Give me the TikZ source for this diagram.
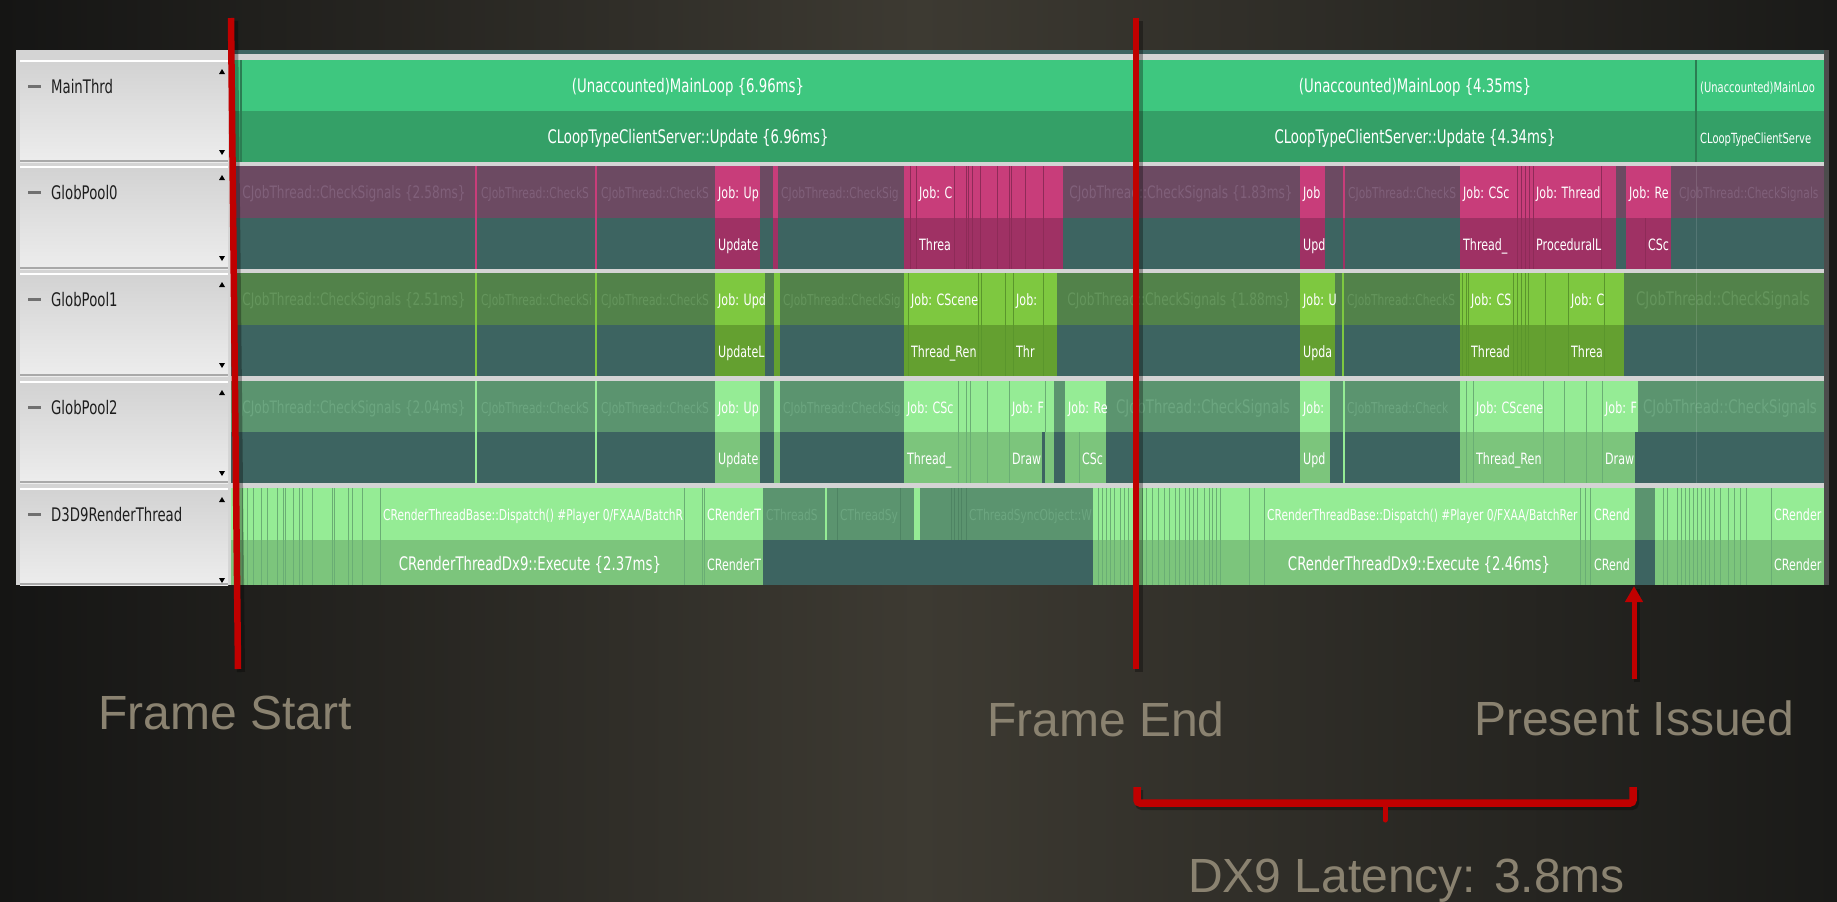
\documentclass[tikz,border=0pt]{standalone}
\usepackage{fontspec}
\usetikzlibrary{arrows.meta}
\newfontfamily\pf[FakeStretch=0.71]{DejaVu Sans}
\newfontfamily\af{Liberation Sans}
\definecolor{bgE}{HTML}{151514}
\definecolor{bgM}{HTML}{3D3A32}
\definecolor{bgR}{HTML}{1A1A18}
\definecolor{panel}{HTML}{D4D4D4}
\definecolor{labA}{HTML}{D2D2D2}
\definecolor{labB}{HTML}{EDEDED}
\definecolor{labE}{HTML}{A9A9A9}
\definecolor{labT}{HTML}{1E1E1E}
\definecolor{dashc}{HTML}{707070}
\definecolor{mainT}{HTML}{3EC77F}
\definecolor{mainB}{HTML}{34A067}
\definecolor{mainL}{HTML}{2B7D52}
\definecolor{tealc}{HTML}{3D6461}
\definecolor{p0i}{HTML}{6C4A62}
\definecolor{p0a}{HTML}{C83D7A}
\definecolor{p0b}{HTML}{9F3164}
\definecolor{p0l}{HTML}{8E2B58}
\definecolor{p0t}{HTML}{80607A}
\definecolor{g1i}{HTML}{52824A}
\definecolor{g1a}{HTML}{7EC840}
\definecolor{g1b}{HTML}{64A030}
\definecolor{g1l}{HTML}{5A962C}
\definecolor{g1t}{HTML}{64955C}
\definecolor{g2i}{HTML}{5B946F}
\definecolor{g2a}{HTML}{95EC95}
\definecolor{g2b}{HTML}{7CC57C}
\definecolor{g2l}{HTML}{6AAE74}
\definecolor{g2t}{HTML}{6CA680}
\definecolor{g2d}{HTML}{4E8463}
\definecolor{redc}{HTML}{C00000}
\definecolor{annc}{HTML}{8A8270}
\tikzset{
  big/.style={font=\pf\fontsize{18.7}{21}\selectfont},
  mid/.style={font=\pf\fontsize{17.1}{19}\selectfont},
  sml/.style={font=\pf\fontsize{15.6}{18}\selectfont},
  smt/.style={font=\pf\fontsize{15}{17}\selectfont},
  tiny/.style={font=\pf\fontsize{14}{16}\selectfont},
  ann/.style={font=\af\fontsize{48}{56}\selectfont,text=annc,inner sep=0pt,anchor=base west},
  redline/.style={draw=redc,line width=6.5pt},
  shadowline/.style={draw=black,opacity=0.3,line width=8pt},
}
% clipped, left aligned text: x1, x2, baseline, style, colour, text
\newcommand\ClT[6]{\begin{scope}\clip (#1,#3-30) rectangle (#2,#3+14);\node[#4,text=#5,anchor=base west,inner sep=0pt] at (#1+3,#3) {#6};\end{scope}}
% centred text: x, baseline, style, colour, text
\newcommand\CeT[5]{\node[#3,text=#4,anchor=base,inner sep=0pt] at (#1,#2) {#5};}
% label cell: top, bottom, name, node name
\newcommand\LabCell[4]{%
  \shade[top color=labA,bottom color=labB] (20,#1) rectangle (228,#2);
  \fill[labE] (20,#2-2) rectangle (228,#2);
  \fill[white] (20,#1) rectangle (228,#1+1.5);
  \fill[dashc] (28,#1+24.5) rectangle (41,#1+28);
  \node[big,text=labT,anchor=base west,inner sep=0pt] (#4) at (51,#1+33) {#3};
  \fill[black] (219,#1+14) -- (225,#1+14) -- (222,#1+9) -- cycle;
  \fill[black] (219,#1+90) -- (225,#1+90) -- (222,#1+95) -- cycle;}
\begin{document}
\begin{tikzpicture}[x=1pt,y=-1pt]
\useasboundingbox (0,0) rectangle (1837,902);
\shade[left color=bgE,right color=bgR,middle color=bgM] (0,0) rectangle (1837,902);
% panel
\fill[panel] (16,50) rectangle (1829,585);
\fill[tealc] (231,50) rectangle (1824,54);
\fill[black!70] (1824,50) rectangle (1829,585);
% label cells
\LabCell{60}{162}{MainThrd}{labA}
\LabCell{166}{269}{GlobPool0}{labB}
\LabCell{273}{376}{GlobPool1}{labC}
\LabCell{381}{483}{GlobPool2}{labD}
\LabCell{488}{585}{D3D9RenderThread}{labE}

% ---------------- MainThrd
\fill[mainT] (231,60) rectangle (1824,111);
\fill[mainB] (231,111) rectangle (1824,162);
\foreach \x in {241,1134,1696} \draw[mainL,line width=1.2pt] (\x,60) -- (\x,162);
\CeT{688}{92}{big}{white}{(Unaccounted)MainLoop \{6.96ms\}}
\CeT{688}{143}{big}{white}{CLoopTypeClientServer::Update \{6.96ms\}}
\CeT{1415}{92}{big}{white}{(Unaccounted)MainLoop \{4.35ms\}}
\CeT{1415}{143}{big}{white}{CLoopTypeClientServer::Update \{4.34ms\}}
\ClT{1697}{1824}{92}{tiny}{white}{(Unaccounted)MainLoo}
\ClT{1697}{1824}{143}{tiny}{white}{CLoopTypeClientServe}

% ---------------- GlobPool0
\fill[p0i] (231,166) rectangle (1824,218);
\fill[tealc] (231,218) rectangle (1824,269);
\foreach \a/\b in {715/760,773/778,904/1063,1300/1325,1343/1345,1460/1616,1626/1671}
  {\fill[p0a] (\a,166) rectangle (\b,218); \fill[p0b] (\a,218) rectangle (\b,269);}
\foreach \x in {476,596} \draw[p0a,line width=1.5pt] (\x,166) -- (\x,269);
\foreach \x in {910,916,954,966,968,972,980,997,1009,1011,1025,1043,1517,1521,1525,1529,1533,1601}
  \draw[p0l,line width=1pt] (\x,166) -- (\x,269);
\draw[p0l,line width=1pt] (1645,218) -- (1645,269);
\CeT{354}{198}{mid}{p0t}{CJobThread::CheckSignals \{2.58ms\}}
\ClT{478}{596}{198}{smt}{p0t}{CJobThread::CheckS}
\ClT{598}{715}{198}{smt}{p0t}{CJobThread::CheckS}
\ClT{778}{904}{198}{smt}{p0t}{CJobThread::CheckSig}
\CeT{1181}{198}{mid}{p0t}{CJobThread::CheckSignals \{1.83ms\}}
\ClT{1345}{1460}{198}{smt}{p0t}{CJobThread::CheckS}
\ClT{1676}{1824}{198}{smt}{p0t}{CJobThread::CheckSignals}
\ClT{715}{760}{198}{sml}{white}{Job: Up}
\ClT{916}{954}{198}{sml}{white}{Job: C}
\ClT{1300}{1325}{198}{sml}{white}{Job}
\ClT{1460}{1517}{198}{sml}{white}{Job: CSc}
\ClT{1533}{1601}{198}{sml}{white}{Job: Thread}
\ClT{1626}{1671}{198}{sml}{white}{Job: Re}
\ClT{715}{760}{250}{sml}{white}{Update}
\ClT{916}{954}{250}{sml}{white}{Threa}
\ClT{1300}{1325}{250}{sml}{white}{Upd}
\ClT{1460}{1517}{250}{sml}{white}{Thread\_}
\ClT{1533}{1601}{250}{sml}{white}{ProceduralL}
\ClT{1645}{1671}{250}{sml}{white}{CSc}

% ---------------- GlobPool1
\fill[g1i] (231,273) rectangle (1824,325);
\fill[tealc] (231,325) rectangle (1824,376);
\foreach \a/\b in {715/765,774/780,904/1057,1300/1335,1460/1624}
  {\fill[g1a] (\a,273) rectangle (\b,325); \fill[g1b] (\a,325) rectangle (\b,376);}
\foreach \x in {476,596,1343} \draw[g1a,line width=1.5pt] (\x,273) -- (\x,376);
\foreach \x in {908,978,981,1005,1013,1043,1462,1466,1468,1513,1517,1521,1525,1528,1545,1568,1604}
  \draw[g1l,line width=1pt] (\x,273) -- (\x,376);
\CeT{354}{305}{mid}{g1t}{CJobThread::CheckSignals \{2.51ms\}}
\ClT{478}{596}{305}{smt}{g1t}{CJobThread::CheckSi}
\ClT{598}{715}{305}{smt}{g1t}{CJobThread::CheckS}
\ClT{780}{904}{305}{smt}{g1t}{CJobThread::CheckSig}
\CeT{1179}{305}{mid}{g1t}{CJobThread::CheckSignals \{1.88ms\}}
\ClT{1344}{1460}{305}{smt}{g1t}{CJobThread::CheckS}
\CeT{1723}{305}{big}{g1t}{CJobThread::CheckSignals}
\ClT{715}{765}{305}{sml}{white}{Job: Upd}
\ClT{908}{978}{305}{sml}{white}{Job: CScene}
\ClT{1013}{1043}{305}{sml}{white}{Job:}
\ClT{1300}{1335}{305}{sml}{white}{Job: U}
\ClT{1468}{1513}{305}{sml}{white}{Job: CS}
\ClT{1568}{1604}{305}{sml}{white}{Job: C}
\ClT{715}{765}{357}{sml}{white}{UpdateL}
\ClT{908}{978}{357}{sml}{white}{Thread\_Ren}
\ClT{1013}{1043}{357}{sml}{white}{Thr}
\ClT{1300}{1335}{357}{sml}{white}{Upda}
\ClT{1468}{1513}{357}{sml}{white}{Thread}
\ClT{1568}{1604}{357}{sml}{white}{Threa}

% ---------------- GlobPool2
\fill[g2i] (231,381) rectangle (1824,432);
\fill[tealc] (231,432) rectangle (1824,483);
\foreach \a/\b in {715/760,774/780,904/1054,1065/1106,1300/1330,1460/1638}
  \fill[g2a] (\a,381) rectangle (\b,432);
\foreach \a/\b in {715/760,774/780,904/1042,1045/1054,1065/1106,1300/1330,1460/1635}
  \fill[g2b] (\a,432) rectangle (\b,483);
\foreach \x in {476,596,1344} \draw[g2a,line width=1.5pt] (\x,381) -- (\x,483);
\foreach \x in {958,966,970,987,1009,1466,1473,1543,1564,1586,1602}
  \draw[g2l,line width=1pt] (\x,381) -- (\x,483);
\draw[g2l,line width=1pt] (1045,381) -- (1045,432);
\draw[g2l,line width=1pt] (1079,432) -- (1079,483);
\CeT{354}{413}{mid}{g2t}{CJobThread::CheckSignals \{2.04ms\}}
\ClT{478}{596}{413}{smt}{g2t}{CJobThread::CheckS}
\ClT{598}{715}{413}{smt}{g2t}{CJobThread::CheckS}
\ClT{780}{904}{413}{smt}{g2t}{CJobThread::CheckSig}
\CeT{1203}{413}{big}{g2t}{CJobThread::CheckSignals}
\ClT{1344}{1460}{413}{smt}{g2t}{CJobThread::Check}
\CeT{1730}{413}{big}{g2t}{CJobThread::CheckSignals}
\ClT{715}{760}{413}{sml}{white}{Job: Up}
\ClT{904}{958}{413}{sml}{white}{Job: CSc}
\ClT{1009}{1045}{413}{sml}{white}{Job: F}
\ClT{1065}{1106}{413}{sml}{white}{Job: Re}
\ClT{1300}{1330}{413}{sml}{white}{Job:}
\ClT{1473}{1543}{413}{sml}{white}{Job: CScene}
\ClT{1602}{1638}{413}{sml}{white}{Job: F}
\ClT{715}{760}{464}{sml}{white}{Update}
\ClT{904}{958}{464}{sml}{white}{Thread\_}
\ClT{1009}{1042}{464}{sml}{white}{Draw}
\ClT{1079}{1106}{464}{sml}{white}{CSc}
\ClT{1300}{1330}{464}{sml}{white}{Upd}
\ClT{1473}{1543}{464}{sml}{white}{Thread\_Ren}
\ClT{1602}{1635}{464}{sml}{white}{Draw}

% ---------------- D3D9RenderThread
\fill[g2i] (231,488) rectangle (1824,540);
\fill[tealc] (231,540) rectangle (1824,585);
\foreach \a/\b in {231/763,825/827,914/920,1093/1635,1655/1824}
  \fill[g2a] (\a,488) rectangle (\b,540);
\foreach \a/\b in {231/763,1093/1635,1655/1824}
  \fill[g2b] (\a,540) rectangle (\b,585);
\foreach \x in {242,247,253,261,267,277,283,285,293,299,302,312,332,334,348,352,362,380,684,702,704,
  1098,1102,1106,1110,1114,1120,1124,1128,1142,1146,1152,1158,1164,1169,1175,1179,1185,1189,1193,1197,
  1204,1209,1212,1216,1220,1249,1264,1580,1585,1590,
  1663,1667,1677,1681,1685,1689,1693,1697,1701,1705,1709,1714,1720,1728,1734,1740,1746,1771}
  \draw[g2l,line width=1pt] (\x,488) -- (\x,585);
\foreach \x in {837,900,951,954,958,961,966}
  \draw[g2d,line width=1pt] (\x,488) -- (\x,540);
\ClT{380}{684}{520}{smt}{white}{CRenderThreadBase::Dispatch() \#Player 0/FXAA/BatchR}
\ClT{704}{763}{520}{sml}{white}{CRenderT}
\ClT{763}{825}{520}{smt}{g2t}{CThreadS}
\ClT{837}{900}{520}{smt}{g2t}{CThreadSy}
\ClT{966}{1093}{520}{smt}{g2t}{CThreadSyncObject::W}
\ClT{1264}{1580}{520}{smt}{white}{CRenderThreadBase::Dispatch() \#Player 0/FXAA/BatchRer}
\ClT{1591}{1633}{520}{sml}{white}{CRend}
\ClT{1771}{1824}{520}{sml}{white}{CRender}
\CeT{530}{570}{big}{white}{CRenderThreadDx9::Execute \{2.37ms\}}
\ClT{704}{763}{570}{sml}{white}{CRenderT}
\CeT{1419}{570}{big}{white}{CRenderThreadDx9::Execute \{2.46ms\}}
\ClT{1591}{1633}{570}{sml}{white}{CRend}
\ClT{1771}{1824}{570}{sml}{white}{CRender}
\draw[white,opacity=0.12,line width=1pt] (1696,166) -- (1696,483);

% ---------------- annotations
\coordinate (fsT) at (231,18);  \coordinate (fsB) at (238,669);
\coordinate (feT) at (1136,18); \coordinate (feB) at (1136,669);
\coordinate (piB) at (1634,679); \coordinate (piT) at (1634,586);
\coordinate (brL) at (1137,787); \coordinate (brR) at (1633,787);
\coordinate (brC) at (1385,803); \coordinate (brTip) at (1385,820);
\draw[shadowline] ([shift={(3,3)}]fsT) -- ([shift={(3,3)}]fsB);
\draw[shadowline] ([shift={(3,3)}]feT) -- ([shift={(3,3)}]feB);
\draw[shadowline,line width=6pt] ([shift={(3,3)}]piB) -- ([shift={(3,3)}]piT);
\draw[shadowline,rounded corners=3pt] ([shift={(2,3)}]brL) -- ([shift={(2,3)}]brL |- brC) -- ([shift={(2,3)}]brR |- brC) -- ([shift={(2,3)}]brR);
\draw[redline] (fsT) -- (fsB);
\draw[redline] (feT) -- (feB);
\draw[redc,line width=5pt,-{Triangle[length=16pt,width=17pt]}] (piB) -- (piT);
\draw[redc,line width=7.5pt,rounded corners=3pt] (brL) -- (brL |- brC) -- (brR |- brC) -- (brR);
\draw[redc,line width=5pt,line cap=round] (brC) -- (brTip);
\node[ann] (fs) at (98,729) {Frame Start};
\node[ann] (fe) at (987,736) {Frame End};
\node[ann] (pi) at (1474,735) {Present Issued};
\node[ann] (lat) at (1188,892) {DX9 Latency: 3.8ms};
\end{tikzpicture}
\end{document}
